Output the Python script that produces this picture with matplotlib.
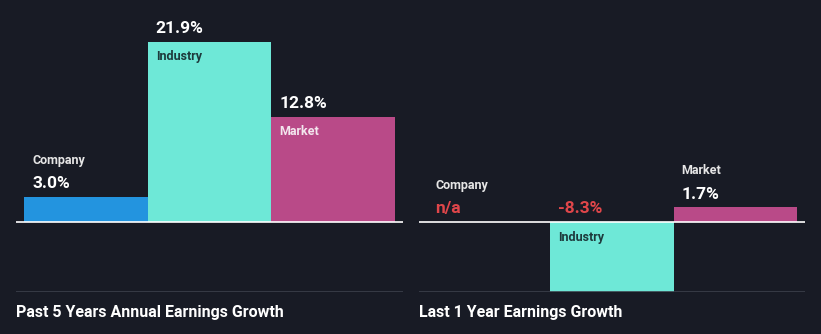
import numpy as np
import matplotlib.pyplot as plt

plt.rcParams['font.family'] = ['Roboto', 'DejaVu Sans']

# data
categories = ["Company", "Industry", "Market"]
past5_values = [3.0, 21.9, 12.8]
last1_values = [None, -8.3, 1.7]
titles = ["Past 5 Years Annual Earnings Growth", "Last 1 Year Earnings Growth"]

bg = '#181b25'
bar_colors = ['#2394df', '#6ee8d7', '#b94a88']
inside_label_colors = ['#ffffff', '#1d3a3c', '#f3e6ee']
neg_color = '#e0464a'

W, H = 821, 334
fig = plt.figure(figsize=(W / 100, H / 100), dpi=100, facecolor=bg)

PT = 0.72  # px -> points at 100 dpi


def make_panel(x0, x1, values, ylim, title):
    top_px, bot_px = 20, 292
    ax = fig.add_axes([x0 / W, 1 - bot_px / H, (x1 - x0) / W, (bot_px - top_px) / H])
    ax.set_facecolor(bg)
    pad = 8 / 123
    ax.set_xlim(-0.5 - pad, 2.5 + pad)
    ax.set_ylim(*ylim)
    for s in ax.spines.values():
        s.set_visible(False)
    ax.set_xticks([])
    ax.set_yticks([])

    xs = np.arange(len(categories))
    for i, v in enumerate(values):
        xl = i - 0.5 + 8 / 123
        if v is not None:
            ax.bar(xs[i], v, width=1.0, color=bar_colors[i], edgecolor='none', zorder=2)
        # value text
        if v is None:
            txt, col, y0 = "n/a", neg_color, 0
        elif v < 0:
            txt, col, y0 = f"{v:.1f}%", neg_color, 0
        else:
            txt, col, y0 = f"{v:.1f}%", 'white', v
        ax.annotate(txt, (xl, y0), xytext=(0, 8.5 * PT), textcoords='offset points',
                    ha='left', va='baseline', color=col, fontsize=12.5,
                    fontweight='bold', zorder=3)
        # category label
        if v is not None and v > 8:
            ax.annotate(categories[i], (xl, v), xytext=(0, -18.5 * PT), textcoords='offset points',
                        ha='left', va='baseline', color=inside_label_colors[i], fontsize=9,
                        fontweight='bold', zorder=3)
        elif v is not None and v < 0:
            ax.annotate(categories[i], (xl, 0), xytext=(0, -20 * PT), textcoords='offset points',
                        ha='left', va='baseline', color=inside_label_colors[i], fontsize=9,
                        fontweight='bold', zorder=3)
        else:
            ax.annotate(categories[i], (xl, y0), xytext=(0, 33 * PT), textcoords='offset points',
                        ha='left', va='baseline', color='#e6e6e6', fontsize=9,
                        fontweight='bold', zorder=3)

    ax.axhline(0, color='white', linewidth=1.2, zorder=4)
    ax.axhline(ylim[0], color='#3b404b', linewidth=1.2, zorder=4)
    fig.text(x0 / W, 1 - 312 / H, title, ha='left', va='center', color='white',
             fontsize=11.5, fontweight='bold')
    return ax


s1 = 8.2
make_panel(16, 403, past5_values, (-70.5 / s1, 201.5 / s1), titles[0])
s2 = 70.5 / 8.3
make_panel(419, 805, last1_values, (-70.5 / s2, 201.5 / s2), titles[1])

fig.savefig('out.png', dpi=100, facecolor=bg)
